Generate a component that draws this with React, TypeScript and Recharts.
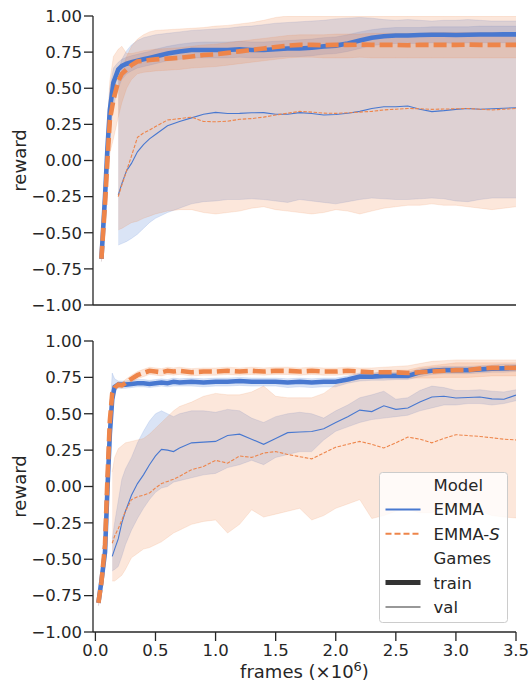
import React from "react";
import { ComposedChart, Line, Area, XAxis, YAxis, Label } from "recharts";

const BLUE = "#4878d0";
const ORANGE = "#ee854a";
const INK = "#262626";
const FONT = "'DejaVu Sans', sans-serif";

// ---- top panel ----
const topFrames = [0.05, 0.08, 0.1, 0.12, 0.15, 0.19, 0.22, 0.26, 0.3, 0.35, 0.4, 0.45, 0.5, 0.6, 0.7, 0.8, 0.9, 1.0, 1.1, 1.2, 1.3, 1.4, 1.5, 1.6, 1.7, 1.8, 1.9, 2.0, 2.1, 2.2, 2.3, 2.4, 2.5, 2.6, 2.7, 2.8, 2.9, 3.0, 3.1, 3.2, 3.3, 3.4, 3.5];

const topEmmaTrain = [-0.68, -0.25, 0.08, 0.35, 0.54, 0.63, 0.655, 0.67, 0.68, 0.69, 0.7, 0.71, 0.72, 0.74, 0.755, 0.765, 0.765, 0.765, 0.765, 0.77, 0.765, 0.765, 0.77, 0.775, 0.775, 0.78, 0.79, 0.795, 0.81, 0.83, 0.85, 0.86, 0.865, 0.865, 0.868, 0.87, 0.87, 0.868, 0.87, 0.872, 0.872, 0.873, 0.873];
const topEmmaTrainLo = [-0.7, -0.33, -0.05, 0.18, 0.38, 0.5, 0.56, 0.6, 0.62, 0.64, 0.65, 0.66, 0.67, 0.69, 0.7, 0.71, 0.71, 0.71, 0.71, 0.715, 0.71, 0.71, 0.715, 0.72, 0.72, 0.725, 0.735, 0.74, 0.755, 0.775, 0.795, 0.805, 0.81, 0.81, 0.81, 0.815, 0.815, 0.81, 0.815, 0.815, 0.815, 0.815, 0.815];
const topEmmaTrainHi = [-0.66, -0.15, 0.22, 0.5, 0.64, 0.68, 0.7, 0.715, 0.725, 0.735, 0.745, 0.755, 0.77, 0.79, 0.805, 0.815, 0.82, 0.82, 0.82, 0.825, 0.82, 0.82, 0.825, 0.83, 0.835, 0.84, 0.85, 0.855, 0.87, 0.89, 0.905, 0.915, 0.92, 0.92, 0.92, 0.925, 0.925, 0.925, 0.925, 0.93, 0.93, 0.93, 0.93];

const topEmmaSTrain = [-0.68, -0.3, 0.0, 0.28, 0.42, 0.55, 0.6, 0.63, 0.66, 0.685, 0.69, 0.695, 0.7, 0.705, 0.71, 0.72, 0.73, 0.735, 0.745, 0.755, 0.765, 0.775, 0.785, 0.795, 0.8, 0.8, 0.798, 0.8, 0.8, 0.802, 0.8, 0.8, 0.8, 0.798, 0.8, 0.8, 0.8, 0.8, 0.802, 0.8, 0.8, 0.8, 0.8];
const topEmmaSTrainLo = [-0.7, -0.42, -0.15, 0.05, 0.15, 0.3, 0.4, 0.5, 0.56, 0.6, 0.61, 0.615, 0.62, 0.625, 0.63, 0.64, 0.645, 0.65, 0.66, 0.67, 0.68, 0.69, 0.7, 0.71, 0.715, 0.715, 0.71, 0.71, 0.71, 0.715, 0.71, 0.71, 0.71, 0.71, 0.71, 0.71, 0.71, 0.71, 0.71, 0.71, 0.71, 0.71, 0.71];
const topEmmaSTrainHi = [-0.66, -0.12, 0.25, 0.55, 0.72, 0.77, 0.79, 0.74, 0.74, 0.75, 0.76, 0.765, 0.77, 0.775, 0.78, 0.79, 0.8, 0.805, 0.815, 0.825, 0.835, 0.845, 0.855, 0.865, 0.87, 0.87, 0.87, 0.875, 0.875, 0.875, 0.88, 0.88, 0.88, 0.88, 0.88, 0.885, 0.885, 0.885, 0.885, 0.885, 0.885, 0.885, 0.885];

const N = null;
const topEmmaVal = [N, N, N, N, N, -0.24, -0.16, -0.07, -0.02, 0.06, 0.11, 0.15, 0.18, 0.24, 0.27, 0.295, 0.32, 0.333, 0.325, 0.326, 0.33, 0.331, 0.32, 0.32, 0.331, 0.325, 0.315, 0.318, 0.327, 0.34, 0.36, 0.372, 0.372, 0.377, 0.355, 0.338, 0.345, 0.354, 0.36, 0.355, 0.358, 0.362, 0.365];
const topEmmaValLo = [N, N, N, N, N, -0.585, -0.575, -0.56, -0.54, -0.51, -0.47, -0.43, -0.4, -0.36, -0.33, -0.3, -0.285, -0.28, -0.27, -0.27, -0.265, -0.27, -0.28, -0.29, -0.27, -0.28, -0.29, -0.3, -0.285, -0.27, -0.26, -0.265, -0.27, -0.27, -0.265, -0.26, -0.265, -0.28, -0.285, -0.27, -0.26, -0.26, -0.26];
const topEmmaValHi = [N, N, N, N, N, 0.62, 0.7, 0.76, 0.8, 0.83, 0.85, 0.86, 0.87, 0.88, 0.89, 0.9, 0.905, 0.91, 0.915, 0.925, 0.93, 0.94, 0.95, 0.955, 0.96, 0.965, 0.97, 0.98, 0.985, 0.99, 0.985, 0.975, 0.97, 0.975, 0.97, 0.965, 0.97, 0.97, 0.975, 0.97, 0.965, 0.965, 0.965];

const topEmmaSVal = [N, N, N, N, N, -0.25, -0.17, -0.07, 0.03, 0.16, 0.19, 0.21, 0.235, 0.28, 0.29, 0.3, 0.27, 0.268, 0.272, 0.285, 0.29, 0.3, 0.315, 0.327, 0.34, 0.335, 0.328, 0.326, 0.33, 0.335, 0.34, 0.35, 0.355, 0.36, 0.358, 0.354, 0.356, 0.358, 0.36, 0.355, 0.35, 0.355, 0.36];
const topEmmaSValLo = [N, N, N, N, N, -0.48, -0.47, -0.45, -0.43, -0.42, -0.4, -0.385, -0.37, -0.35, -0.34, -0.34, -0.36, -0.37, -0.36, -0.35, -0.33, -0.32, -0.34, -0.35, -0.36, -0.37, -0.36, -0.34, -0.35, -0.37, -0.35, -0.33, -0.32, -0.31, -0.31, -0.3, -0.31, -0.31, -0.32, -0.33, -0.34, -0.33, -0.32];
const topEmmaSValHi = [N, N, N, N, N, 0.55, 0.63, 0.72, 0.79, 0.84, 0.87, 0.89, 0.9, 0.905, 0.91, 0.915, 0.92, 0.93, 0.935, 0.945, 0.955, 0.97, 0.99, 1, 1, 1, 1, 1, 1, 1, 1, 1, 1, 1, 1, 1, 1, 1, 1, 1, 1, 1, 1];

// ---- bottom panel ----
const botFrames = [0.025, 0.05, 0.08, 0.1, 0.12, 0.14, 0.16, 0.19, 0.22, 0.25, 0.3, 0.35, 0.4, 0.45, 0.5, 0.55, 0.6, 0.65, 0.7, 0.8, 0.9, 1.0, 1.1, 1.2, 1.3, 1.4, 1.5, 1.6, 1.7, 1.8, 1.9, 2.0, 2.1, 2.2, 2.3, 2.4, 2.5, 2.6, 2.7, 2.8, 2.9, 3.0, 3.1, 3.2, 3.3, 3.4, 3.5];

const botEmmaTrain = [-0.8, -0.65, -0.45, -0.02, 0.36, 0.6, 0.685, 0.7, 0.7, 0.7, 0.705, 0.71, 0.71, 0.705, 0.71, 0.715, 0.71, 0.72, 0.715, 0.72, 0.715, 0.72, 0.72, 0.725, 0.72, 0.72, 0.72, 0.715, 0.72, 0.715, 0.72, 0.72, 0.735, 0.755, 0.755, 0.76, 0.76, 0.76, 0.785, 0.795, 0.8, 0.8, 0.8, 0.805, 0.81, 0.812, 0.815];
const botEmmaTrainLo = [-0.82, -0.68, -0.5, -0.1, 0.28, 0.55, 0.66, 0.675, 0.675, 0.675, 0.68, 0.685, 0.685, 0.68, 0.685, 0.69, 0.685, 0.69, 0.69, 0.69, 0.685, 0.69, 0.69, 0.695, 0.69, 0.69, 0.69, 0.68, 0.685, 0.68, 0.685, 0.685, 0.71, 0.725, 0.73, 0.73, 0.735, 0.735, 0.755, 0.77, 0.775, 0.775, 0.775, 0.78, 0.785, 0.785, 0.79];
const botEmmaTrainHi = [-0.78, -0.6, -0.4, 0.06, 0.5, 0.78, 0.74, 0.725, 0.725, 0.725, 0.73, 0.735, 0.735, 0.73, 0.735, 0.74, 0.735, 0.745, 0.74, 0.745, 0.74, 0.745, 0.745, 0.75, 0.745, 0.745, 0.745, 0.74, 0.745, 0.74, 0.745, 0.745, 0.76, 0.78, 0.78, 0.785, 0.785, 0.785, 0.81, 0.82, 0.825, 0.825, 0.825, 0.83, 0.835, 0.84, 0.84];

const botEmmaSTrain = [-0.8, -0.66, -0.4, 0.05, 0.45, 0.64, 0.68, 0.7, 0.695, 0.71, 0.74, 0.765, 0.78, 0.795, 0.79, 0.785, 0.795, 0.79, 0.795, 0.785, 0.79, 0.79, 0.795, 0.79, 0.795, 0.79, 0.795, 0.795, 0.79, 0.795, 0.79, 0.79, 0.795, 0.79, 0.785, 0.785, 0.785, 0.78, 0.785, 0.79, 0.795, 0.8, 0.8, 0.81, 0.815, 0.815, 0.815];
const botEmmaSTrainLo = [-0.82, -0.7, -0.46, -0.05, 0.35, 0.6, 0.66, 0.68, 0.675, 0.69, 0.715, 0.74, 0.755, 0.77, 0.765, 0.76, 0.77, 0.765, 0.77, 0.76, 0.765, 0.765, 0.77, 0.765, 0.77, 0.765, 0.77, 0.77, 0.765, 0.77, 0.765, 0.765, 0.77, 0.765, 0.76, 0.755, 0.75, 0.745, 0.745, 0.745, 0.75, 0.75, 0.75, 0.755, 0.76, 0.76, 0.76];
const botEmmaSTrainHi = [-0.78, -0.62, -0.34, 0.15, 0.55, 0.68, 0.7, 0.72, 0.715, 0.735, 0.765, 0.79, 0.805, 0.82, 0.815, 0.81, 0.82, 0.815, 0.82, 0.81, 0.815, 0.815, 0.82, 0.815, 0.82, 0.815, 0.82, 0.82, 0.815, 0.82, 0.815, 0.815, 0.82, 0.815, 0.815, 0.82, 0.825, 0.83, 0.845, 0.86, 0.865, 0.87, 0.87, 0.87, 0.87, 0.87, 0.87];

const botEmmaVal = [N, N, N, N, N, -0.48, -0.43, -0.36, -0.25, -0.17, -0.06, 0.02, 0.08, 0.15, 0.21, 0.255, 0.25, 0.24, 0.265, 0.3, 0.305, 0.31, 0.35, 0.36, 0.325, 0.29, 0.33, 0.37, 0.375, 0.378, 0.397, 0.44, 0.48, 0.525, 0.515, 0.555, 0.53, 0.54, 0.58, 0.615, 0.62, 0.608, 0.612, 0.615, 0.602, 0.6, 0.628];
const botEmmaValLo = [N, N, N, N, N, -0.58, -0.57, -0.55, -0.48, -0.4, -0.3, -0.22, -0.15, -0.09, -0.04, -0.01, 0.0, 0.03, 0.04, 0.06, 0.08, 0.09, 0.13, 0.15, 0.18, 0.15, 0.2, 0.22, 0.24, 0.24, 0.32, 0.38, 0.41, 0.44, 0.46, 0.47, 0.48, 0.49, 0.52, 0.54, 0.56, 0.56, 0.57, 0.57, 0.56, 0.57, 0.59];
const botEmmaValHi = [N, N, N, N, N, -0.36, -0.25, -0.1, 0.05, 0.12, 0.2, 0.3, 0.38, 0.45, 0.5, 0.52, 0.5, 0.48, 0.5, 0.52, 0.52, 0.51, 0.53, 0.52, 0.47, 0.44, 0.48, 0.5, 0.51, 0.5, 0.47, 0.52, 0.56, 0.61, 0.63, 0.655, 0.6, 0.61, 0.66, 0.69, 0.68, 0.66, 0.66, 0.665, 0.655, 0.65, 0.665];

const botEmmaSVal = [N, N, N, N, N, -0.39, -0.34, -0.29, -0.23, -0.17, -0.09, -0.07, -0.06, -0.045, -0.01, 0.02, 0.035, 0.05, 0.07, 0.115, 0.138, 0.18, 0.16, 0.21, 0.2, 0.23, 0.24, 0.22, 0.205, 0.19, 0.23, 0.27, 0.29, 0.31, 0.29, 0.265, 0.3, 0.34, 0.325, 0.3, 0.33, 0.356, 0.35, 0.344, 0.335, 0.325, 0.32];
const botEmmaSValLo = [N, N, N, N, N, -0.65, -0.65, -0.63, -0.61, -0.57, -0.49, -0.46, -0.43, -0.42, -0.4, -0.38, -0.35, -0.32, -0.3, -0.26, -0.24, -0.23, -0.32, -0.26, -0.16, -0.21, -0.19, -0.17, -0.15, -0.23, -0.2, -0.15, -0.12, -0.09, -0.22, -0.2, -0.17, -0.16, -0.18, -0.18, -0.15, -0.14, -0.14, -0.17, -0.2, -0.21, -0.216];
const botEmmaSValHi = [N, N, N, N, N, 0.1, 0.2, 0.26, 0.28, 0.3, 0.31, 0.32, 0.33, 0.36, 0.4, 0.44, 0.48, 0.52, 0.55, 0.58, 0.62, 0.64, 0.63, 0.63, 0.65, 0.69, 0.62, 0.61, 0.61, 0.61, 0.64, 0.7, 0.72, 0.745, 0.77, 0.8, 0.8, 0.8, 0.82, 0.83, 0.84, 0.85, 0.85, 0.85, 0.85, 0.85, 0.85];

const xTicks = [0, 0.5, 1, 1.5, 2, 2.5, 3, 3.5];
const yTicks = [-1, -0.75, -0.5, -0.25, 0, 0.25, 0.5, 0.75, 1];

type V = number | null;

const band = (lo: V[], hi: V[], i: number) =>
  lo[i] == null || hi[i] == null ? null : [lo[i], hi[i]];

const buildRows = (frames: number[], s: Record<string, V[]>) =>
  frames.map((f, i) => ({
    frames: f,
    emmaTrain: s.emmaTrain[i],
    emmaSTrain: s.emmaSTrain[i],
    emmaVal: s.emmaVal[i],
    emmaSVal: s.emmaSVal[i],
    emmaTrainBand: band(s.emmaTrainLo, s.emmaTrainHi, i),
    emmaSTrainBand: band(s.emmaSTrainLo, s.emmaSTrainHi, i),
    emmaValBand: band(s.emmaValLo, s.emmaValHi, i),
    emmaSValBand: band(s.emmaSValLo, s.emmaSValHi, i),
  }));

const topData = buildRows(topFrames, {
  emmaTrain: topEmmaTrain, emmaTrainLo: topEmmaTrainLo, emmaTrainHi: topEmmaTrainHi,
  emmaSTrain: topEmmaSTrain, emmaSTrainLo: topEmmaSTrainLo, emmaSTrainHi: topEmmaSTrainHi,
  emmaVal: topEmmaVal, emmaValLo: topEmmaValLo, emmaValHi: topEmmaValHi,
  emmaSVal: topEmmaSVal, emmaSValLo: topEmmaSValLo, emmaSValHi: topEmmaSValHi,
});

const botData = buildRows(botFrames, {
  emmaTrain: botEmmaTrain, emmaTrainLo: botEmmaTrainLo, emmaTrainHi: botEmmaTrainHi,
  emmaSTrain: botEmmaSTrain, emmaSTrainLo: botEmmaSTrainLo, emmaSTrainHi: botEmmaSTrainHi,
  emmaVal: botEmmaVal, emmaValLo: botEmmaValLo, emmaValHi: botEmmaValHi,
  emmaSVal: botEmmaSVal, emmaSValLo: botEmmaSValLo, emmaSValHi: botEmmaSValHi,
});

const fmtY = (v: number) => (v < 0 ? "\u2212" : "") + Math.abs(v).toFixed(2);

const tickStyle = { fill: INK, fontSize: 16.5, fontFamily: FONT };
const axisStroke = { stroke: INK, strokeWidth: 1.3 };

const bandProps = (color: string) => ({
  type: "linear" as const,
  stroke: color,
  strokeOpacity: 0.15,
  strokeWidth: 1,
  fill: color,
  fillOpacity: 0.2,
  dot: false,
  activeDot: false,
  isAnimationActive: false,
});

const lineProps = {
  type: "linear" as const,
  dot: false,
  activeDot: false,
  isAnimationActive: false,
  connectNulls: false,
};

interface PanelProps {
  data: any[];
  top: number;
  marginTop: number;
  plotHeight: number;
  axisHeight: number;
  showXLabels: boolean;
}

const Panel: React.FC<PanelProps> = ({ data, top, marginTop, plotHeight, axisHeight, showXLabels }) => {
  const midY = marginTop + plotHeight / 2;
  return (
    <div style={{ position: "absolute", left: 0, top }}>
      <ComposedChart
        width={532}
        height={marginTop + plotHeight + axisHeight}
        data={data}
        margin={{ top: marginTop, right: 16, bottom: 0, left: 0 }}
      >
        <XAxis
          type="number"
          dataKey="frames"
          domain={[-0.02, 3.5]}
          allowDataOverflow
          ticks={xTicks}
          interval={0}
          height={axisHeight}
          tickSize={9}
          tickMargin={3}
          axisLine={axisStroke}
          tickLine={axisStroke}
          tick={showXLabels ? tickStyle : false}
          tickFormatter={(v: number) => v.toFixed(1)}
          label={
            showXLabels ? (
              <Label
                content={() => (
                  <text x={304.5} y={marginTop + plotHeight + 46} textAnchor="middle" fill={INK} fontSize={18} fontFamily={FONT}>
                    frames (×10<tspan dy={-7} fontSize={13}>6</tspan>
                    <tspan dy={7}>)</tspan>
                  </text>
                )}
              />
            ) : undefined
          }
        />
        <YAxis
          type="number"
          domain={[-1, 1]}
          allowDataOverflow
          ticks={yTicks}
          interval={0}
          width={93}
          tickSize={9}
          tickMargin={2}
          axisLine={axisStroke}
          tickLine={axisStroke}
          tick={tickStyle}
          tickFormatter={fmtY}
          label={
            <Label
              content={() => (
                <text x={19} y={midY} transform={`rotate(-90, 19, ${midY})`} textAnchor="middle" dominantBaseline="central" fill={INK} fontSize={18} fontFamily={FONT}>
                  reward
                </text>
              )}
            />
          }
        />
        <Area dataKey="emmaTrainBand" {...bandProps(BLUE)} />
        <Area dataKey="emmaValBand" {...bandProps(BLUE)} />
        <Area dataKey="emmaSTrainBand" {...bandProps(ORANGE)} />
        <Area dataKey="emmaSValBand" {...bandProps(ORANGE)} />
        <Line dataKey="emmaVal" stroke={BLUE} strokeWidth={1.1} {...lineProps} />
        <Line dataKey="emmaSVal" stroke={ORANGE} strokeWidth={1.1} strokeDasharray="3.5 1.6" {...lineProps} />
        <Line dataKey="emmaTrain" stroke={BLUE} strokeWidth={4.6} {...lineProps} />
        <Line dataKey="emmaSTrain" stroke={ORANGE} strokeWidth={4.6} strokeDasharray="13 5" {...lineProps} />
      </ComposedChart>
    </div>
  );
};

const legendRows = [
  { label: "Model", handle: null },
  { label: "EMMA", handle: { color: BLUE, width: 2, dash: undefined } },
  { label: "EMMA-S", handle: { color: ORANGE, width: 2, dash: "6 3" } },
  { label: "Games", handle: null },
  { label: "train", handle: { color: "#333333", width: 5, dash: undefined } },
  { label: "val", handle: { color: "#333333", width: 1.1, dash: undefined } },
];

const LegendBox: React.FC = () => (
  <svg width={130} height={152} style={{ position: "absolute", left: 379, top: 472 }}>
    <rect x={0.5} y={0.5} width={128} height={150} rx={3} fill="#ffffff" fillOpacity={0.8} stroke="#cccccc" />
    {legendRows.map((r, i) => {
      const cy = 13 + i * 24.4;
      return (
        <g key={r.label}>
          {r.handle && (
            <line x1={6.5} x2={41.5} y1={cy} y2={cy} stroke={r.handle.color} strokeWidth={r.handle.width} strokeDasharray={r.handle.dash} />
          )}
          <text x={54.5} y={cy + 6} fill={INK} fontSize={16.5} fontFamily={FONT}>
            {r.label === "EMMA-S" ? (
              <>
                EMMA-<tspan fontStyle="italic">S</tspan>
              </>
            ) : (
              r.label
            )}
          </text>
        </g>
      );
    })}
  </svg>
);

export default function App() {
  return (
    <div style={{ position: "absolute", left: 0, top: 0, width: 532, height: 681, background: "#ffffff", overflow: "hidden" }}>
      <Panel data={topData} top={0} marginTop={16} plotHeight={289} axisHeight={20} showXLabels={false} />
      <Panel data={botData} top={320} marginTop={21} plotHeight={291} axisHeight={55} showXLabels={true} />
      <LegendBox />
    </div>
  );
}
